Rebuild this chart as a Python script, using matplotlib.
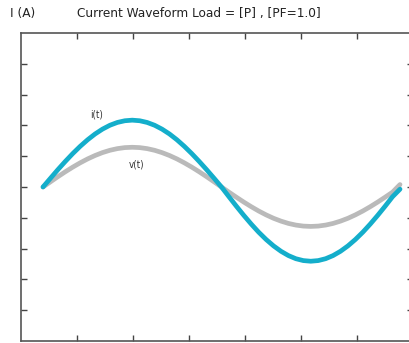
import matplotlib
matplotlib.use("Agg")
import matplotlib.pyplot as plt

# waveform samples (x and y in tick units)
x_pts = [0.393, 0.526, 0.658, 0.791, 0.924, 1.057, 1.190, 1.323, 1.455, 1.588,
         1.721, 1.854, 1.987, 2.120, 2.252, 2.385, 2.518, 2.651, 2.784, 2.916,
         3.049, 3.182, 3.315, 3.448, 3.580, 3.713, 3.846, 3.979, 4.112, 4.244,
         4.377, 4.510, 4.643, 4.776, 4.908, 5.041, 5.174, 5.307, 5.440, 5.572,
         5.705, 5.838, 5.971, 6.104, 6.236, 6.369, 6.502, 6.635, 6.768]
i_t = [0, 0.283, 0.562, 0.830, 1.085, 1.321, 1.534, 1.722, 1.879, 2.005,
       2.096, 2.151, 2.17, 2.151, 2.096, 2.005, 1.879, 1.722, 1.534, 1.321,
       1.085, 0.830, 0.562, 0.283, 0, -0.315, -0.624, -0.922, -1.205, -1.467,
       -1.704, -1.912, -2.087, -2.227, -2.328, -2.389, -2.41, -2.389, -2.328, -2.227,
       -2.087, -1.912, -1.704, -1.467, -1.205, -0.922, -0.624, -0.315, -0.07]
v_t = [0, 0.168, 0.334, 0.494, 0.645, 0.785, 0.912, 1.023, 1.117, 1.192,
       1.246, 1.279, 1.29, 1.279, 1.246, 1.192, 1.117, 1.023, 0.912, 0.785,
       0.645, 0.494, 0.334, 0.168, 0, -0.167, -0.331, -0.490, -0.64, -0.779,
       -0.905, -1.016, -1.108, -1.183, -1.236, -1.269, -1.28, -1.269, -1.236, -1.183,
       -1.108, -1.016, -0.905, -0.779, -0.64, -0.490, -0.331, -0.167, 0.08]
x_ticks = [1, 2, 3, 4, 5, 6]
y_ticks = [-4, -3, -2, -1, 0, 1, 2, 3, 4]

plt.rcParams['font.family'] = ['DejaVu Sans']

fig = plt.figure(figsize=(4.09, 3.43), dpi=100)
ax = fig.add_axes([21 / 409, 2 / 343, 392 / 409, 308 / 343])

ax.plot(x_pts, v_t, color='#bababa', lw=3.4, solid_capstyle='round')
ax.plot(x_pts, i_t, color='#14aecb', lw=3.4, solid_capstyle='round')

ax.set_xlim(0, 7)
ax.set_ylim(-5, 5)
ax.set_xticks(x_ticks)
ax.set_yticks(y_ticks)
ax.set_xticklabels([])
ax.set_yticklabels([])
ax.tick_params(direction='in', length=4, width=1, color='#444444',
               top=True, right=True)
for s in ax.spines.values():
    s.set_color('#555555')
    s.set_linewidth(1.2)

ax.text(1.23, 2.25, 'i(t)', fontsize=7, color='#333333', fontstretch='condensed')
ax.text(1.92, 0.62, 'v(t)', fontsize=7, color='#333333', fontstretch='condensed')

fig.text(10 / 409, 1 - 14 / 343, 'I (A)', fontsize=9.7, va='center',
         color='#222222', fontstretch='condensed')
fig.text(77 / 409, 1 - 14 / 343, 'Current Waveform Load = [P] , [PF=1.0]',
         fontsize=9.7, va='center', color='#222222', fontstretch='condensed')

fig.savefig('out.png', dpi=100)
